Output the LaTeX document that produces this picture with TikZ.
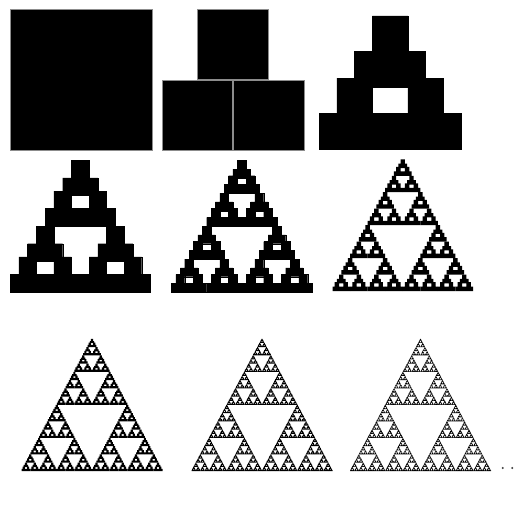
\documentclass[tikz,border=0pt]{standalone}
\usepackage{tikz}
\tikzset{
  sq/.style={fill=black, draw=black, line width=0.2pt},
  bigsq/.style={fill=black, draw=black!45, line width=0.5pt},
  dotmark/.style={fill=black!75, draw=none}
}
% base shape: level-2 stacked squares, x = left, #2 = bottom (image y), #3 = width
\newcommand\sierbase[3]{%
  \begingroup
  \pgfmathsetmacro\su{#3/4}%
  \path[sq] ({#1},{#2}) rectangle ({#1+4*\su},{#2-\su})
            ({#1+0.5*\su},{#2-\su}) rectangle ({#1+1.5*\su},{#2-2*\su})
            ({#1+2.5*\su},{#2-\su}) rectangle ({#1+3.5*\su},{#2-2*\su})
            ({#1+\su},{#2-1.75*\su}) rectangle ({#1+3*\su},{#2-2.75*\su})
            ({#1+1.5*\su},{#2-2.75*\su}) rectangle ({#1+2.5*\su},{#2-3.75*\su});
  \endgroup}
% recursive: #1 level, #2 left x, #3 bottom y, #4 width
\newcommand\sier[4]{%
  \begingroup
  \ifnum#1=2\relax
    \sierbase{#2}{#3}{#4}%
  \else
    \pgfmathsetmacro\sw{#4/2}%
    \pgfmathsetmacro\sxb{#2+#4/2}%
    \pgfmathsetmacro\sxt{#2+#4/4}%
    \pgfmathsetmacro\syt{#3-#4*15/32}%
    \edef\snext{%
      \noexpand\sier{\the\numexpr#1-1\relax}{#2}{#3}{\sw}%
      \noexpand\sier{\the\numexpr#1-1\relax}{\sxb}{#3}{\sw}%
      \noexpand\sier{\the\numexpr#1-1\relax}{\sxt}{\syt}{\sw}}%
    \snext
  \fi
  \endgroup}
\begin{document}
\begin{tikzpicture}[x=1pt,y=-1pt]
\useasboundingbox[fill=white] (0,0) rectangle (519,504);
% level 0
\path[bigsq] (10,9) rectangle (152,150);
% level 1
\path[bigsq] (162,80) rectangle (232.5,150);
\path[bigsq] (233.5,80) rectangle (304,150);
\path[bigsq] (197.5,9.5) rectangle (268.5,79);
% level 2
\sierbase{319}{149}{142}
% levels 3-5
\sier{3}{10}{292}{140.5}
\sier{4}{171.5}{292}{140.5}
\tikzset{sq/.style={fill=black}}
\sier{5}{332.5}{291}{140.5}
% levels 6-8
\sier{6}{21.5}{471}{141}
\sier{7}{191.5}{471}{141}
\sier{8}{350}{471}{141}
% ellipsis dots
\fill[dotmark] (502.7,468) coordinate (d1) circle (1.1);
\fill[dotmark] (512.3,468) coordinate (d2) circle (1.1);
\end{tikzpicture}
\end{document}
